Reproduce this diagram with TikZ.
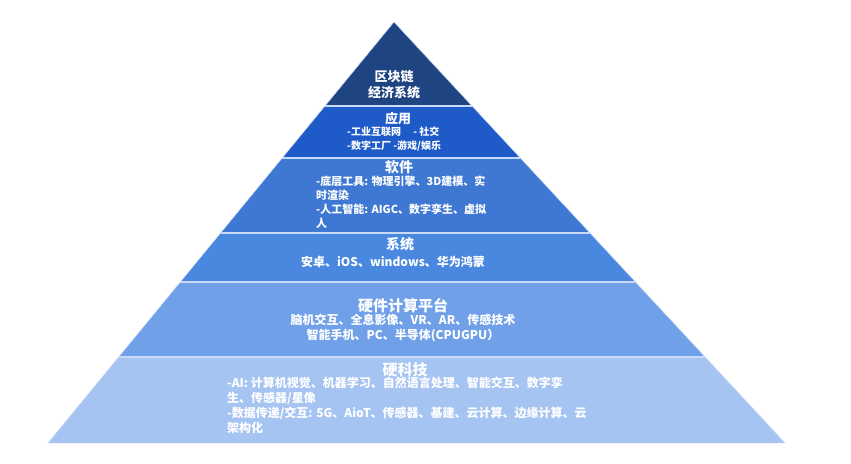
\documentclass[tikz,border=0pt]{standalone}
\usepackage{fontspec}
\setmainfont{Noto Sans CJK SC}
\usetikzlibrary{calc}
\begin{document}
\begin{tikzpicture}[x=1pt, y=-1pt,
		title/.style={text=white, inner sep=0pt, font=\fontsize{14}{16}\selectfont\bfseries},
		item/.style={text=white, inner sep=0pt, align=left, font=\fontsize{11}{14}\selectfont\bfseries}]
		\definecolor{layerA}{RGB}{31, 68, 130}
		\definecolor{layerB}{RGB}{30, 90, 200}
		\definecolor{layerC}{RGB}{62, 120, 210}
		\definecolor{layerD}{RGB}{74, 136, 224}
		\definecolor{layerE}{RGB}{111, 160, 232}
		\definecolor{layerF}{RGB}{166, 196, 242}
		\definecolor{sepline}{RGB}{200, 218, 248}
		
		\useasboundingbox (0,0) rectangle (851,463);
		
		% 金字塔三个顶点
		\coordinate (apex) at (394,22);
		\coordinate (baseL) at (48,443);
		\coordinate (baseR) at (785,443);
		
		% 各层
		\foreach \ta/\tb/\col in {0/0.1995/layerA, 0.1995/0.323/layerB, 0.323/0.501/layerC,
			0.501/0.6176/layerD, 0.6176/0.7957/layerE, 0.7957/1/layerF} {
			\fill[\col] ($(apex)!\ta!(baseL)$) -- ($(apex)!\tb!(baseL)$)
				-- ($(apex)!\tb!(baseR)$) -- ($(apex)!\ta!(baseR)$) -- cycle;
		}
		
		% 分隔线
		\foreach \tb in {0.1995, 0.323, 0.501, 0.6176, 0.7957} {
			\draw[sepline, line width=1.2pt] ($(apex)!\tb!(baseL)$) -- ($(apex)!\tb!(baseR)$);
		}
		\draw[sepline, line width=0.5pt] (baseL) -- (apex) -- (baseR);
		
		% 区块链
		\node[title, align=center, font=\fontsize{13}{16}\selectfont\bfseries] (chain) at (394,85) {区块链\\经济系统};
		
		% 应用
		\node[title, font=\fontsize{13}{16}\selectfont\bfseries] (app) at (398,119) {应用};
		\node[item, anchor=west, font=\fontsize{10}{14}\selectfont\bfseries] (appItems) at (347,139)
			{-工业互联网\quad\ - 社交\\-数字工厂 -游戏/娱乐};
		
		% 软件
		\node[title] (soft) at (399,167) {软件};
		\node[item, anchor=west] (softItems) at (316,202)
			{-底层工具: 物理引擎、3D建模、实\\时渲染\\-人工智能: AIGC、数字孪生、虚拟\\人};
		
		% 系统
		\node[title] (sys) at (400,244) {系统};
		\node[item, font=\fontsize{12}{14}\selectfont\bfseries] (sysItems) at (393,262)
			{安卓、iOS、windows、华为鸿蒙};
		
		% 硬件计算平台
		\node[title, font=\fontsize{15}{16}\selectfont\bfseries] (hw) at (403,306) {硬件计算平台};
		\node[item, align=center, font=\fontsize{12}{15}\selectfont\bfseries] (hwItems) at (403,328.5)
			{脑机交互、全息影像、VR、AR、传感技术\\智能手机、PC、半导体(CPUGPU）};
		
		% 硬科技
		\node[title, font=\fontsize{15}{16}\selectfont\bfseries] (tech) at (405,370) {硬科技};
		\node[item, anchor=west, font=\fontsize{12}{15}\selectfont\bfseries] (techItems) at (227,405.5)
			{-AI: 计算机视觉、机器学习、自然语言处理、智能交互、数字孪\\生、传感器/星像\\-数据传递/交互: 5G、AioT、传感器、基建、云计算、边缘计算、云\\架构化};
\end{tikzpicture}
\end{document}
